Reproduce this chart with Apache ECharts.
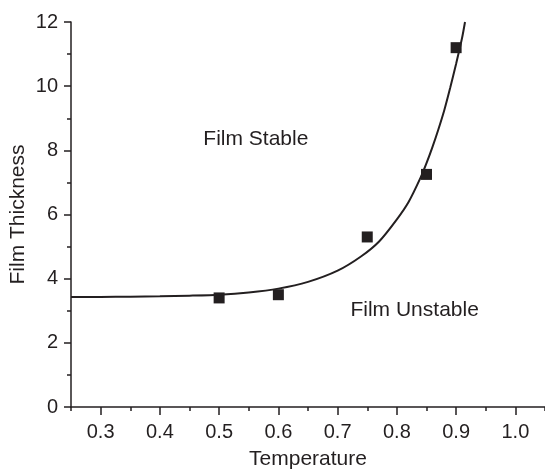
<!DOCTYPE html>
<html>
<head>
<meta charset="utf-8">
<script src="https://cdn.jsdelivr.net/npm/echarts@6/dist/echarts.min.js"></script>
<style>
  html, body { margin: 0; padding: 0; background: #fff; }
  #chart { width: 545px; height: 474px; }
</style>
</head>
<body>
<div id="chart"></div>
<script>
// measured points (squares)
var pointX = [0.5, 0.6, 0.75, 0.85, 0.9];
var pointY = [3.4, 3.5, 5.3, 7.25, 11.2];

// fitted curve
var curveX = [0.25, 0.30, 0.35, 0.40, 0.45, 0.50, 0.55, 0.60, 0.65, 0.70, 0.74, 0.77, 0.80, 0.82, 0.84, 0.85, 0.86, 0.87, 0.88, 0.89, 0.90, 0.91, 0.915];
var curveY = [3.43, 3.43, 3.44, 3.45, 3.47, 3.50, 3.57, 3.69, 3.90, 4.25, 4.70, 5.16, 5.85, 6.4, 7.15, 7.6, 8.1, 8.65, 9.25, 9.95, 10.7, 11.5, 12.0];

// tick labels
var xMajor = [0.3, 0.4, 0.5, 0.6, 0.7, 0.8, 0.9, 1.0];
var xMinor = [0.25, 0.35, 0.45, 0.55, 0.65, 0.75, 0.85, 0.95, 1.05];

// text labels in the plot
var noteText = ["Film Stable", "Film Unstable"];
var noteX = [0.562, 0.83];
var noteY = [8.35, 3.02];

var ink = "#231f20";
var font = "Liberation Sans, Arial, sans-serif";

function each(arr, fn) {
    for (var i = 0; i < arr.length; i++) fn(i, arr[i]);
}
function zip(xs, ys) {
    var out = [];
    each(xs, function (i, x) { out.push([x, ys[i]]); });
    return out;
}

var notes = [];
each(noteText, function (i, t) {
    notes.push({ value: [noteX[i], noteY[i]], name: t });
});

var option = {
    animation: false,
    grid: { left: 71, right: 0, top: 22, bottom: 67, outerBoundsMode: "none", containLabel: false },
    xAxis: [
        {
            type: "value",
            min: 0.25,
            max: 1.05,
            name: "Temperature",
            nameLocation: "middle",
            nameGap: 42,
            nameMoveOverlap: false,
            nameTextStyle: { color: ink, fontSize: 21, fontFamily: font },
            splitLine: { show: false },
            axisLine: { lineStyle: { color: ink, width: 1.5 } },
            axisTick: { customValues: xMajor, length: 8, lineStyle: { color: ink, width: 1.5 } },
            axisLabel: {
                customValues: xMajor,
                margin: 15,
                color: ink, fontSize: 20, fontFamily: font,
                formatter: function (v) { return v.toFixed(1); }
            }
        },
        {
            type: "value",
            min: 0.25,
            max: 1.05,
            position: "bottom",
            splitLine: { show: false },
            axisLine: { show: false },
            axisTick: { customValues: xMinor, length: 4, lineStyle: { color: ink, width: 1.5 } },
            axisLabel: { show: false }
        }
    ],
    yAxis: {
        type: "value",
        min: 0,
        max: 12,
        interval: 2,
        name: "Film Thickness",
        nameLocation: "middle",
        nameGap: 42,
        nameMoveOverlap: false,
        nameTextStyle: { color: ink, fontSize: 21, fontFamily: font },
        splitLine: { show: false },
        axisLine: { show: true, lineStyle: { color: ink, width: 1.5 } },
        axisTick: { length: 7, lineStyle: { color: ink, width: 1.5 } },
        minorTick: { show: true, splitNumber: 2, length: 4, lineStyle: { color: ink, width: 1.5 } },
        axisLabel: { margin: 13, color: ink, fontSize: 20, fontFamily: font }
    },
    series: [
        {
            type: "line",
            data: zip(curveX, curveY),
            smooth: 0.25,
            showSymbol: false,
            clip: true,
            lineStyle: { color: ink, width: 2 }
        },
        {
            type: "scatter",
            data: zip(pointX, pointY),
            symbol: "rect",
            symbolSize: 11,
            itemStyle: { color: ink, opacity: 1 }
        },
        {
            type: "scatter",
            data: notes,
            symbolSize: 0,
            silent: true,
            label: {
                show: true,
                position: "inside",
                formatter: "{b}",
                color: ink,
                opacity: 1,
                fontSize: 21,
                fontFamily: font
            }
        }
    ]
};

echarts.init(document.getElementById("chart")).setOption(option);
</script>
</body>
</html>
